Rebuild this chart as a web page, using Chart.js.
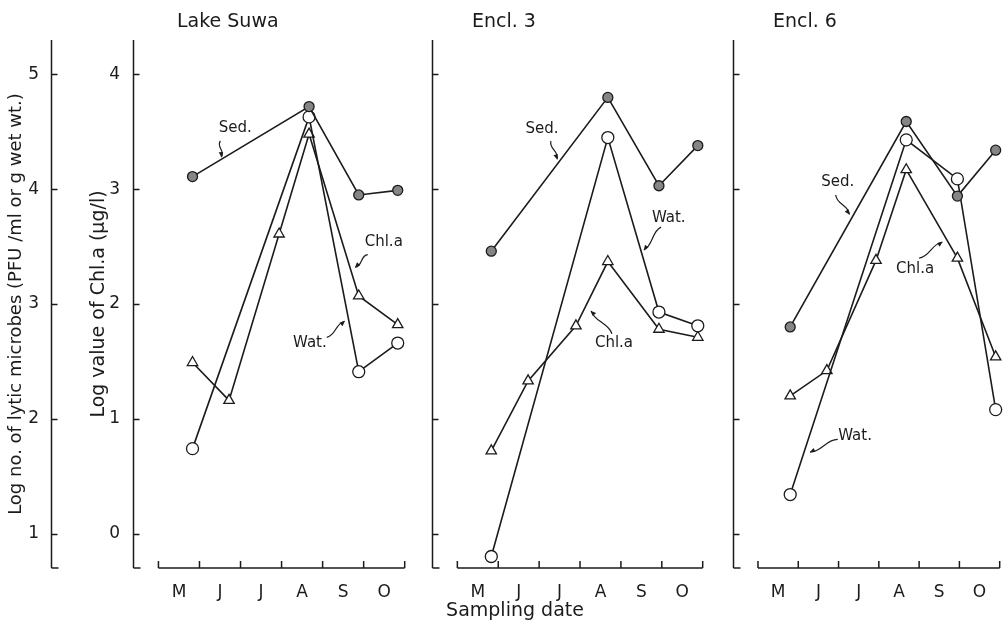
<!DOCTYPE html>
<html>
<head>
<meta charset="utf-8">
<script src="https://cdn.jsdelivr.net/npm/chart.js@4"></script>
<style>
  html, body { margin: 0; padding: 0; background: #fff; }
  body { width: 1007px; height: 625px; position: relative; overflow: hidden; }
  canvas { position: absolute; top: 0; }
</style>
</head>
<body>
<canvas id="panel-suwa" width="412" height="625" style="left:0"></canvas>
<canvas id="panel-encl3" width="298" height="625" style="left:412px"></canvas>
<canvas id="panel-encl6" width="297" height="625" style="left:710px"></canvas>
<script>
// ---- Data (x = month number, 5 = start of May; y = log values) ----
const months = ["M", "J", "J", "A", "S", "O"];
const monthBounds = [5, 6, 7, 8, 9, 10, 11];
const monthMids = [5.5, 6.5, 7.5, 8.5, 9.5, 10.5];
const chlTicks = [0, 1, 2, 3, 4];
const microbeTicks = [1, 2, 3, 4, 5];

// Lake Suwa
const suwaDates = [5.83, 6.72, 7.94, 8.67, 9.88, 10.83];
const suwaSed = [4.11, null, null, 4.72, 3.95, 3.99];
const suwaWat = [1.74, null, null, 4.63, 2.41, 2.66];
const suwaChl = [1.49, 1.16, 2.61, 3.48, 2.07, 1.82];

// Encl. 3
const encl3Dates = [5.83, 6.73, 7.9, 8.68, 9.93, 10.88];
const encl3Sed = [3.46, null, null, 4.8, 4.03, 4.38];
const encl3Wat = [0.8, null, null, 4.45, 2.93, 2.81];
const encl3Chl = [0.72, 1.33, 1.81, 2.37, 1.78, 1.71];

// Encl. 6
const encl6Dates = [5.8, 6.71, 7.93, 8.68, 9.95, 10.9];
const encl6Sed = [2.8, null, null, 4.59, 3.94, 4.34];
const encl6Wat = [1.34, null, null, 4.43, 4.09, 2.08];
const encl6Chl = [1.2, 1.42, 2.38, 3.17, 2.4, 1.54];

// curve labels: text centre, arrow tail and tip (x month, y on Chl.a scale)
const suwaNotes = [
  { text: "Sed.", at: [6.87, 3.53], tail: [6.51, 3.42], tip: [6.53, 3.28] },
  { text: "Chl.a", at: [10.49, 2.54], tail: [10.1, 2.43], tip: [9.79, 2.32] },
  { text: "Wat.", at: [8.69, 1.66], tail: [9.1, 1.71], tip: [9.54, 1.85] },
];
const encl3Notes = [
  { text: "Sed.", at: [7.07, 3.52], tail: [7.29, 3.42], tip: [7.44, 3.26] },
  { text: "Wat.", at: [10.17, 2.75], tail: [9.98, 2.67], tip: [9.56, 2.47] },
  { text: "Chl.a", at: [8.83, 1.66], tail: [8.78, 1.74], tip: [8.27, 1.94] },
];
const encl6Notes = [
  { text: "Sed.", at: [6.98, 3.06], tail: [6.93, 2.95], tip: [7.27, 2.78] },
  { text: "Chl.a", at: [8.9, 2.3], tail: [9.0, 2.4], tip: [9.58, 2.54] },
  { text: "Wat.", at: [7.41, 0.85], tail: [6.98, 0.82], tip: [6.29, 0.71] },
];

const ink = "#1b1b1b";
const FONT = "'DejaVu Sans', sans-serif";

function points(dates, values) {
  return dates.map((d, i) => (values[i] == null ? null : { x: d, y: values[i] })).filter(Boolean);
}

function series(label, dates, values, axis, style) {
  return {
    label,
    data: points(dates, values),
    yAxisID: axis,
    borderColor: ink,
    borderWidth: 1.6,
    tension: 0,
    clip: false,
    pointBorderColor: ink,
    pointBorderWidth: 1.3,
    ...style,
  };
}

const sedStyle = { pointStyle: "circle", pointRadius: 5, pointBackgroundColor: "#858585" };
const watStyle = { pointStyle: "circle", pointRadius: 6, pointBackgroundColor: "#fff" };
const chlStyle = { pointStyle: "triangle", pointRadius: 6, pointBackgroundColor: "#fff" };

function squiggle(ctx, x1, y1, x2, y2) {
  const dx = x2 - x1, dy = y2 - y1, len = Math.hypot(dx, dy);
  const nx = -dy / len, ny = dx / len, w = 5;
  ctx.beginPath();
  ctx.moveTo(x1, y1);
  ctx.bezierCurveTo(x1 + dx / 3 + nx * w, y1 + dy / 3 + ny * w, x1 + (2 * dx) / 3 - nx * w, y1 + (2 * dy) / 3 - ny * w, x2, y2);
  ctx.stroke();
  const ux = dx / len, uy = dy / len, h = 5;
  ctx.beginPath();
  ctx.moveTo(x2, y2);
  ctx.lineTo(x2 - ux * h + nx * h * 0.45, y2 - uy * h + ny * h * 0.45);
  ctx.lineTo(x2 - ux * h - nx * h * 0.45, y2 - uy * h - ny * h * 0.45);
  ctx.closePath();
  ctx.fill();
}

// y axis lines with inward ticks and bottom caps, x axis with upward month ticks, labels
const panelDecor = {
  id: "panelDecor",
  afterDraw(chart, args, opts) {
    const ctx = chart.ctx, area = chart.chartArea;
    const x = chart.scales.x, yChl = chart.scales.yChl;
    ctx.save();
    ctx.strokeStyle = ink;
    ctx.fillStyle = ink;
    ctx.lineWidth = 1.5;

    ["yNo", "yChl"].forEach((id) => {
      const s = chart.scales[id];
      if (!s.options.display) return;
      const ax = Math.round(s.right) + 0.5;
      ctx.beginPath();
      ctx.moveTo(ax, area.top);
      ctx.lineTo(ax, area.bottom);
      s.ticks.forEach((t) => {
        const py = Math.round(s.getPixelForValue(t.value)) + 0.5;
        ctx.moveTo(ax, py);
        ctx.lineTo(ax + 6, py);
      });
      ctx.moveTo(ax, area.bottom);
      ctx.lineTo(ax + 7, area.bottom);
      ctx.stroke();
    });

    const bottom = area.bottom;
    ctx.beginPath();
    ctx.moveTo(x.getPixelForValue(monthBounds[0]), bottom);
    ctx.lineTo(x.getPixelForValue(monthBounds[monthBounds.length - 1]), bottom);
    monthBounds.forEach((m) => {
      const px = x.getPixelForValue(m);
      ctx.moveTo(px, bottom);
      ctx.lineTo(px, bottom - 7);
    });
    ctx.stroke();

    ctx.lineWidth = 1.2;
    ctx.font = `15px ${FONT}`;
    ctx.textAlign = "center";
    ctx.textBaseline = "middle";
    opts.notes.forEach((n) => {
      ctx.fillText(n.text, x.getPixelForValue(n.at[0]), yChl.getPixelForValue(n.at[1]));
      squiggle(ctx,
        x.getPixelForValue(n.tail[0]), yChl.getPixelForValue(n.tail[1]),
        x.getPixelForValue(n.tip[0]), yChl.getPixelForValue(n.tip[1]));
    });

    ctx.font = `19px ${FONT}`;
    ctx.textAlign = "left";
    ctx.fillText(opts.title, area.left + opts.titleOffset, 22);
    if (opts.caption) {
      ctx.textAlign = "center";
      ctx.fillText(opts.caption, area.left + 83, 611);
    }
    ctx.restore();
  },
};

function buildPanel(canvasId, p) {
  const labelled = !!p.axisTitles;
  return new Chart(document.getElementById(canvasId), {
    type: "line",
    data: {
      datasets: [
        series("Sed.", p.dates, p.sed, "yNo", sedStyle),
        series("Wat.", p.dates, p.wat, "yNo", watStyle),
        series("Chl.a", p.dates, p.chl, "yChl", chlStyle),
      ],
    },
    options: {
      responsive: false,
      animation: false,
      devicePixelRatio: 1,
      layout: { padding: { top: 40, right: p.padRight, bottom: 0, left: 0 } },
      plugins: {
        legend: { display: false },
        tooltip: { enabled: false },
        panelDecor: { notes: p.notes, title: p.title, titleOffset: p.titleOffset, caption: p.caption },
      },
      scales: {
        x: {
          type: "linear",
          min: 4.38,
          max: 11,
          grid: { display: false },
          border: { display: false },
          afterBuildTicks: (s) => { s.ticks = monthMids.map((v) => ({ value: v })); },
          afterFit: (s) => { s.height = 57; },
          ticks: {
            autoSkip: false,
            maxRotation: 0,
            padding: 6,
            color: ink,
            font: { family: FONT, size: 17 },
            callback: (v, i) => months[i],
          },
        },
        yChl: {
          type: "linear",
          position: "left",
          weight: 0,
          min: -0.3,
          max: 4.3,
          afterBuildTicks: (s) => { s.ticks = chlTicks.map((v) => ({ value: v })); },
          afterFit: (s) => { s.width = p.chlWidth; },
          grid: { display: false },
          border: { display: false },
          ticks: { display: labelled, padding: 5, color: ink, font: { family: FONT, size: 17 } },
          title: {
            display: labelled,
            text: "Log value of Chl.a (µg/l)",
            color: ink,
            font: { family: FONT, size: 19 },
            padding: { top: 37, bottom: 0 },
          },
        },
        yNo: {
          type: "linear",
          position: "left",
          weight: 1,
          display: labelled,
          min: 0.7,
          max: 5.3,
          afterBuildTicks: (s) => { s.ticks = microbeTicks.map((v) => ({ value: v })); },
          afterFit: (s) => { if (labelled) s.width = 51; },
          grid: { display: false },
          border: { display: false },
          ticks: { padding: 4, color: ink, font: { family: FONT, size: 17 } },
          title: {
            display: true,
            text: "Log no. of lytic microbes (PFU /ml or g wet wt.)",
            color: ink,
            font: { family: FONT, size: 18 },
            padding: { top: 6, bottom: 0 },
          },
        },
      },
    },
    plugins: [panelDecor],
  });
}

buildPanel("panel-suwa", {
  title: "Lake Suwa", titleOffset: 44, axisTitles: true, chlWidth: 82, padRight: 7,
  dates: suwaDates, sed: suwaSed, wat: suwaWat, chl: suwaChl, notes: suwaNotes,
});
buildPanel("panel-encl3", {
  title: "Encl. 3", titleOffset: 40, chlWidth: 20, padRight: 6, caption: "Sampling date",
  dates: encl3Dates, sed: encl3Sed, wat: encl3Wat, chl: encl3Chl, notes: encl3Notes,
});
buildPanel("panel-encl6", {
  title: "Encl. 6", titleOffset: 40, chlWidth: 23, padRight: 2,
  dates: encl6Dates, sed: encl6Sed, wat: encl6Wat, chl: encl6Chl, notes: encl6Notes,
});
</script>
</body>
</html>
